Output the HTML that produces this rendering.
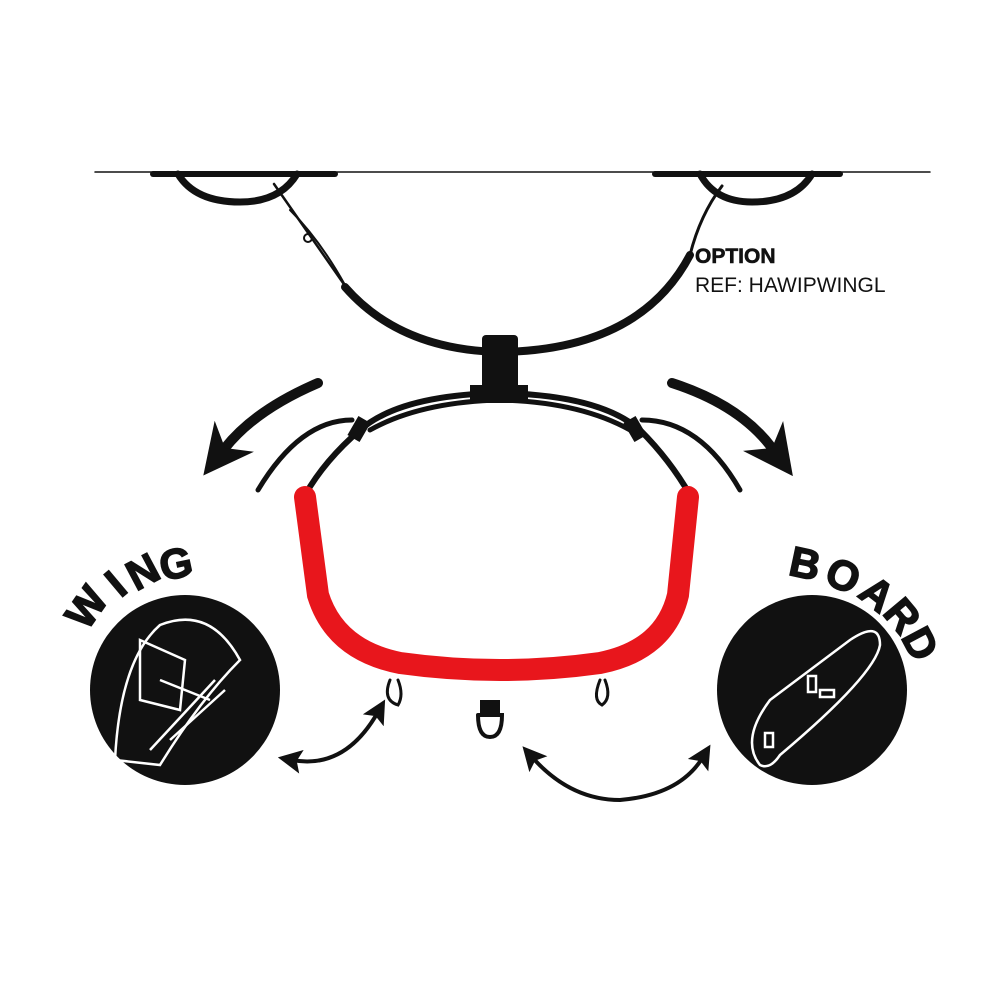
<!DOCTYPE html>
<html><head><style>body{margin:0;background:#fff}svg{display:block}</style></head><body>
<svg width="1000" height="1000" viewBox="0 0 1000 1000" xmlns="http://www.w3.org/2000/svg">
<defs>
<marker id="ah" viewBox="0 0 10 10" refX="4" refY="5" markerWidth="6" markerHeight="6" orient="auto-start-reverse"><path d="M0,0 L10,5 L0,10 L2,5 z" fill="#111"/></marker>
<marker id="ahb" viewBox="0 0 10 10" refX="3" refY="5" markerWidth="5" markerHeight="5" orient="auto"><path d="M0,0 L10,5 L0,10 L3,5 z" fill="#111"/></marker>
</defs>
<g fill="none" stroke="#111" stroke-linecap="round">
<line x1="95" y1="172" x2="930" y2="172" stroke-width="1.5"/>
<line x1="153" y1="174" x2="335" y2="174" stroke-width="6"/>
<line x1="655" y1="174" x2="840" y2="174" stroke-width="6"/>
<path d="M178,174 Q195,202 240,202 Q280,202 297,174" stroke-width="7"/>
<path d="M700,174 Q715,202 752,202 Q795,202 812,174" stroke-width="7"/>
<path d="M274,184 L348,290" stroke-width="2.5"/>
<path d="M290,210 Q320,240 345,285" stroke-width="2"/>
<circle cx="308" cy="238" r="4" stroke-width="2"/>
<path d="M345,287 Q400,350 500,352 Q640,350 690,255" stroke-width="8"/>
<path d="M690,255 Q700,215 722,186" stroke-width="3"/>
<path d="M500,393 Q400,395 360,430 Q325,460 305,495" stroke-width="6"/>
<path d="M500,400 Q420,402 370,430" stroke-width="5"/>
<path d="M500,393 Q600,395 640,430 Q670,460 690,495" stroke-width="6"/>
<path d="M500,400 Q580,402 630,430" stroke-width="5"/>
<path d="M352,420 Q300,420 258,490" stroke-width="5"/>
<path d="M642,420 Q700,420 740,490" stroke-width="5"/>
<path d="M318,383 Q255,410 225,448" stroke-width="10" marker-end="url(#ahb)"/>
<path d="M672,383 Q740,405 772,448" stroke-width="10" marker-end="url(#ahb)"/>
<path d="M292,760 Q345,770 378,712" stroke-width="4" marker-end="url(#ah)" marker-start="url(#ah)"/>
<path d="M532,757 Q570,800 620,800 Q680,795 703,757" stroke-width="4" marker-end="url(#ah)" marker-start="url(#ah)"/>
<path d="M390,680 Q382,700 398,705 Q404,695 398,680" stroke-width="3"/>
<path d="M600,680 Q592,700 602,705 Q612,698 605,680" stroke-width="3"/>
<path d="M478,715 L502,715 Q502,737 490,737 Q478,737 478,715" stroke-width="4"/>
</g>
<rect x="482" y="335" width="36" height="65" rx="4" fill="#111"/>
<rect x="470" y="385" width="58" height="18" fill="#111"/>
<rect x="352" y="418" width="14" height="22" fill="#111" transform="rotate(30 359 429)"/>
<rect x="628" y="418" width="14" height="22" fill="#111" transform="rotate(-30 635 429)"/>
<rect x="480" y="700" width="20" height="16" fill="#111"/>
<path d="M305,497 L318,595 Q335,650 400,663 Q500,677 600,663 Q665,650 678,595 L688,497" fill="none" stroke="#e8161c" stroke-width="22" stroke-linecap="round"/>
<circle cx="185" cy="690" r="95" fill="#111"/>
<circle cx="812" cy="690" r="95" fill="#111"/>
<g fill="none" stroke="#fff" stroke-width="2.5">
<path d="M115,760 Q120,660 160,625 Q210,605 240,660 Q200,700 160,765 Z"/>
<path d="M140,640 L185,660 L180,710 L140,700 Z"/>
<path d="M160,680 L210,700"/><path d="M170,740 L225,690"/><path d="M150,750 L215,680"/>
<path d="M760,765 Q740,740 770,700 L850,640 Q880,620 880,645 Q875,675 780,755 Q770,770 760,765 Z"/>
<rect x="808" y="676" width="8" height="16"/><rect x="820" y="690" width="14" height="7"/><rect x="765" y="733" width="8" height="14"/>
</g>
<g font-family="Liberation Sans, sans-serif" font-weight="bold" font-size="42" fill="#111" text-anchor="middle" stroke="#111" stroke-width="1.5">
<text x="86" y="622" transform="rotate(-55 86 607)">W</text>
<text x="116" y="598" transform="rotate(-40 116 584)">I</text>
<text x="143" y="586" transform="rotate(-28 143 572)">N</text>
<text x="176" y="578" transform="rotate(-12 176 564)">G</text>
<text x="805" y="578" transform="rotate(12 805 564)">B</text>
<text x="843" y="590" transform="rotate(25 843 576)">O</text>
<text x="877" y="608" transform="rotate(38 877 594)">A</text>
<text x="902" y="630" transform="rotate(50 902 616)">R</text>
<text x="920" y="658" transform="rotate(62 920 644)">D</text>
</g>
<text x="695" y="263" font-family="Liberation Sans, sans-serif" font-weight="bold" font-size="21" fill="#111" stroke="#111" stroke-width="0.6">OPTION</text>
<text x="695" y="292" font-family="Liberation Sans, sans-serif" font-size="21" fill="#111">REF: HAWIPWINGL</text>
</svg>
</body></html>
